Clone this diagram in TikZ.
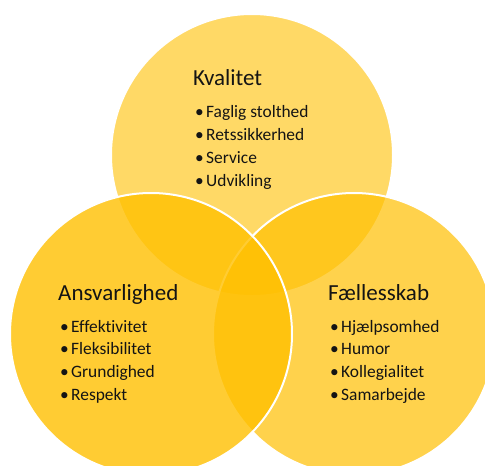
\documentclass[tikz,border=0pt]{standalone}
\usepackage{fontspec}
\setmainfont{Carlito}[Ligatures={NoCommon,NoContextual}]
\definecolor{gold}{RGB}{255,192,0}
\definecolor{ink}{RGB}{20,20,20}
\tikzset{
  venn/.style={fill=gold, draw=white, line width=2pt},
  vtitle/.style={anchor=base west, inner sep=0pt, text=ink, font=\fontsize{23}{27}\selectfont},
  vitem/.style={anchor=base west, inner sep=0pt, text=ink, font=\fontsize{17.4}{20}\selectfont},
}
\newcommand{\vbul}[1]{\makebox[11pt][l]{•}#1}
\begin{document}
\begin{tikzpicture}[x=1pt,y=-1pt]
\useasboundingbox (0,0) rectangle (485,466);
\clip (0,0) rectangle (485,466);
\fill[white] (0,0) rectangle (485,466);
% circles: top, right, left
\path[venn, fill opacity=0.6] (252,155) circle[radius=141];
\path[venn, fill opacity=0.7] (354,334) circle[radius=141];
\path[venn, fill opacity=0.8] (151,334) circle[radius=141];
% top
\node[vtitle] (kt) at (193,85) {Kvalitet};
\foreach \t [count=\i] in {Faglig stolthed, Retssikkerhed, Service, Udvikling}
  \node[vitem] (k\i) at (195,{117+23*(\i-1)}) {\vbul{\t}};
% left
\node[vtitle] (at) at (58,300) {Ansvarlighed};
\foreach \t [count=\i] in {Effektivitet, Fleksibilitet, Grundighed, Respekt}
  \node[vitem] (a\i) at (60,{332+22.7*(\i-1)}) {\vbul{\t}};
% right
\node[vtitle] (ft) at (328,300) {Fællesskab};
\foreach \t [count=\i] in {Hjælpsomhed, Humor, Kollegialitet, Samarbejde}
  \node[vitem] (f\i) at (330,{332+22.7*(\i-1)}) {\vbul{\t}};
\end{tikzpicture}
\end{document}
